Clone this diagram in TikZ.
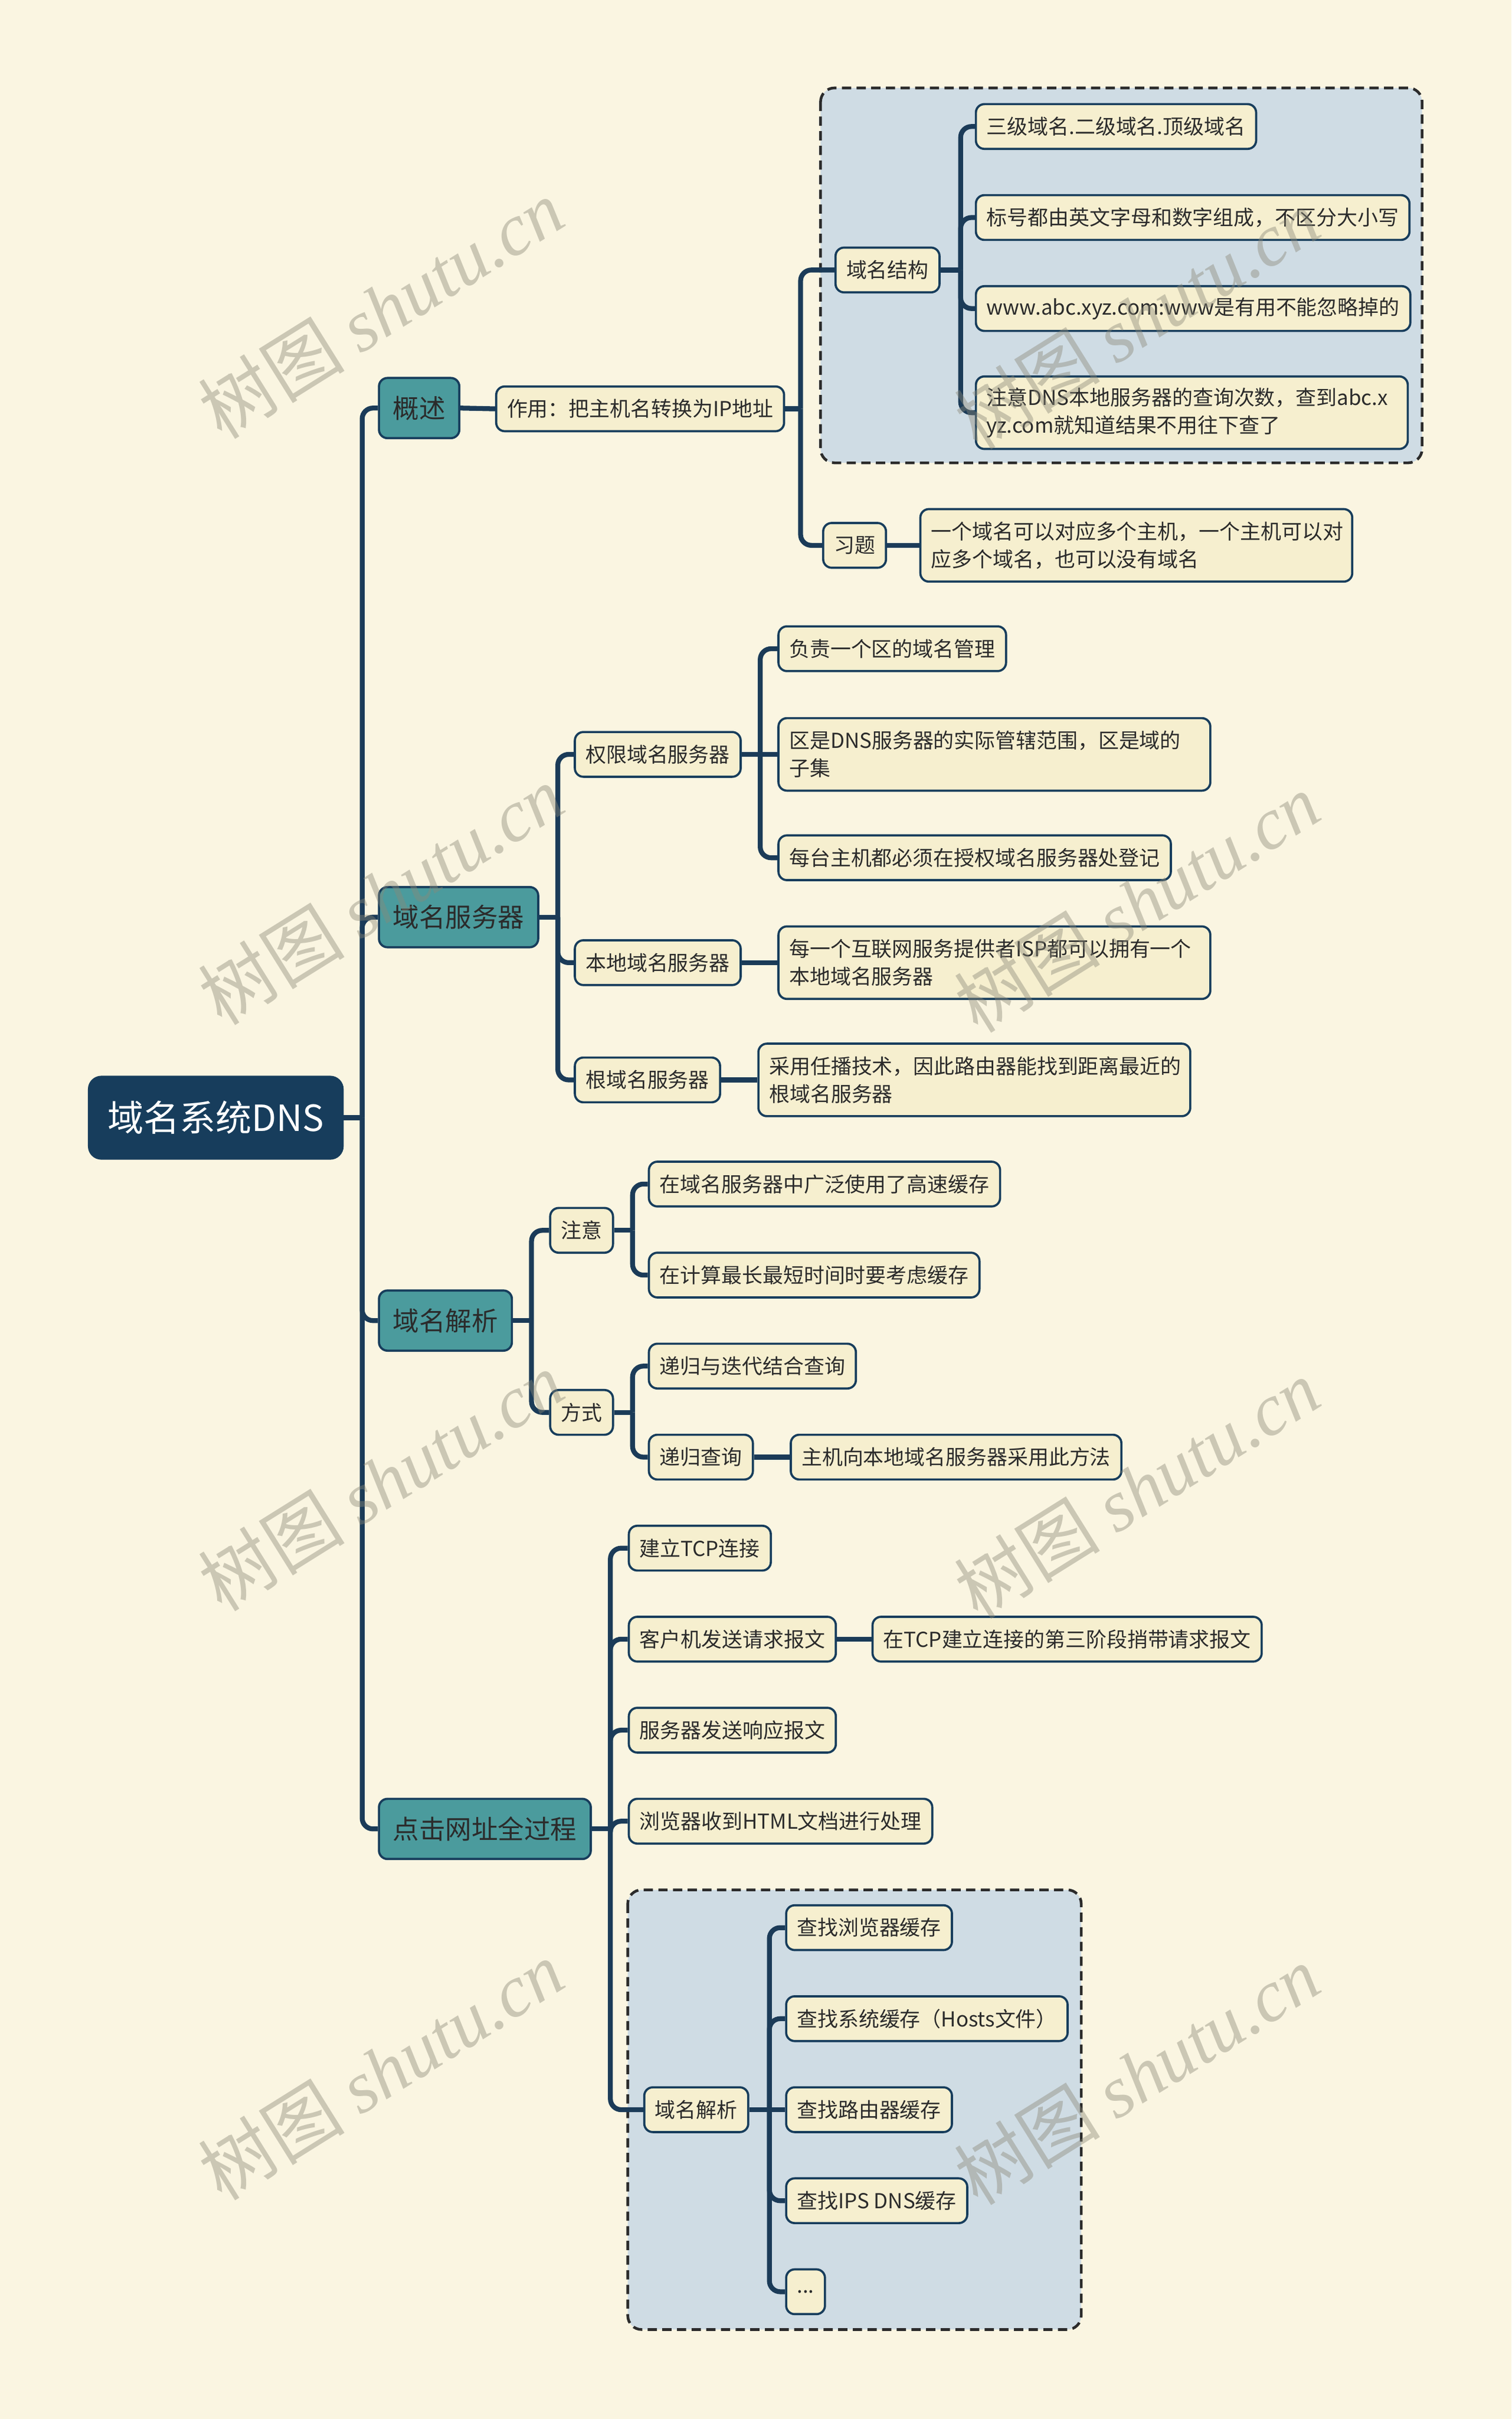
\documentclass[tikz,border=0pt]{standalone}
\usepackage{fontspec}
\setmainfont{Noto Sans CJK SC}
\newfontfamily\wmserif{Liberation Serif}
\usepackage{tikz}
\usetikzlibrary{positioning,calc,backgrounds}

\definecolor{bgcream}{HTML}{FAF5E1}
\definecolor{navy}{HTML}{173D5C}
\definecolor{linkblue}{HTML}{1B3B58}
\definecolor{teal1}{HTML}{4B9B9D}
\definecolor{leafy}{HTML}{F6EFCF}
\definecolor{groupblue}{HTML}{CFDCE4}
\definecolor{inkgray}{HTML}{2B2B2B}
\definecolor{wmgray}{HTML}{8A8878}

\begin{document}
\begin{tikzpicture}[x=0.2mm, y=-0.2mm,
    box/.style={draw=navy, line width=0.8pt, anchor=west, inner xsep=1.4mm, inner ysep=0mm,
      minimum height=5.8mm, rounded corners=1.1mm},
    root/.style={box, fill=navy, text=white, font=\fontsize{13.3}{16}\selectfont,
      minimum height=10.6mm, inner xsep=2.4mm, rounded corners=1.6mm},
    topic/.style={box, fill=teal1, text=inkgray, font=\fontsize{9.7}{12}\selectfont,
      minimum height=7.8mm, inner xsep=1.8mm},
    leaf/.style={box, fill=leafy, text=inkgray, font=\fontsize{7.6}{10.2}\selectfont},
    wrap/.style={leaf, align=left, text width=53.2mm, minimum height=9.4mm},
    link/.style={draw=linkblue, line width=1.8pt, rounded corners=1.4mm},
    group/.style={draw=inkgray, fill=groupblue, line width=1pt,
      dash pattern=on 1.2mm off 0.7mm, rounded corners=1.8mm},
    wmark/.style={text=wmgray, text opacity=0.42, rotate=32, anchor=center,
      font=\fontsize{27}{27}\selectfont}]
  \useasboundingbox (0,0) rectangle (980,1568);

  %root and main topics
  \node[root] (r) at (57,724.5) {域名系统DNS};
  \node[topic] (a) at (245,264.5) {概述};
  \node[topic] (b) at (245,594.5) {域名服务器};
  \node[topic] (c) at (245,856) {域名解析};
  \node[topic] (d) at (245,1185.5) {点击网址全过程};

  %overview
  \node[leaf] (a1) at (321,265) {作用：把主机名转换为IP地址};
  \node[leaf] (a11) at (541,175) {域名结构};
  \node[leaf] (a12) at (533,353.5) {习题};
  \node[leaf] (a111) at (632,82) {三级域名.二级域名.顶级域名};
  \node[leaf] (a112) at (632,141) {标号都由英文字母和数字组成，不区分大小写};
  \node[leaf] (a113) at (632,200) {www.abc.xyz.com:www是有用不能忽略掉的};
  \node[wrap] (a114) at (632,267.5) {注意DNS本地服务器的查询次数，查到abc.x\\yz.com就知道结果不用往下查了};
  \node[wrap] (a121) at (596,353.5) {一个域名可以对应多个主机，一个主机可以对\\应多个域名，也可以没有域名};

  %servers
  \node[leaf] (b1) at (372,489) {权限域名服务器};
  \node[leaf] (b2) at (372,624) {本地域名服务器};
  \node[leaf] (b3) at (372,700) {根域名服务器};
  \node[leaf] (b11) at (504,420.5) {负责一个区的域名管理};
  \node[wrap] (b12) at (504,489) {区是DNS服务器的实际管辖范围，区是域的\\子集};
  \node[leaf] (b13) at (504,556) {每台主机都必须在授权域名服务器处登记};
  \node[wrap] (b21) at (504,624) {每一个互联网服务提供者ISP都可以拥有一个\\本地域名服务器};
  \node[wrap] (b31) at (491,700) {采用任播技术，因此路由器能找到距离最近的\\根域名服务器};

  %resolution
  \node[leaf] (c1) at (356,797.5) {注意};
  \node[leaf] (c2) at (356,915.5) {方式};
  \node[leaf] (c11) at (420,767.5) {在域名服务器中广泛使用了高速缓存};
  \node[leaf] (c12) at (420,826.5) {在计算最长最短时间时要考虑缓存};
  \node[leaf] (c21) at (420,885.5) {递归与迭代结合查询};
  \node[leaf] (c22) at (420,944.5) {递归查询};
  \node[leaf] (c221) at (512,944.5) {主机向本地域名服务器采用此方法};

  %whole process
  \node[leaf] (d1) at (407,1003.5) {建立TCP连接};
  \node[leaf] (d2) at (407,1062.5) {客户机发送请求报文};
  \node[leaf] (d21) at (565,1062.5) {在TCP建立连接的第三阶段捎带请求报文};
  \node[leaf] (d3) at (407,1121.5) {服务器发送响应报文};
  \node[leaf] (d4) at (407,1180.5) {浏览器收到HTML文档进行处理};
  \node[leaf] (d5) at (417,1367.5) {域名解析};
  \node[leaf] (d51) at (509,1249.5) {查找浏览器缓存};
  \node[leaf] (d52) at (509,1308.5) {查找系统缓存（Hosts文件）};
  \node[leaf] (d53) at (509,1367.5) {查找路由器缓存};
  \node[leaf] (d54) at (509,1426.5) {查找IPS DNS缓存};
  \node[leaf] (d55) at (509,1485.5) {...};

  \begin{scope}[on background layer]
    \fill[bgcream] (0,0) rectangle (980,1568);
    \draw[group] (532,57) rectangle (922,300);
    \draw[group] (407,1225) rectangle (701,1510);

    \coordinate (rj) at ($(r.east)+(12,0)$);
    \draw[link] (r.east) -- (rj);
    \foreach \n in {a,b,c,d} \draw[link] (rj) |- (\n.west);

    \draw[link] (a.east) -- (a1.west);
    \coordinate (a1j) at ($(a1.east)+(10,0)$);
    \draw[link] (a1.east) -- (a1j);
    \foreach \n in {a11,a12} \draw[link] (a1j) |- (\n.west);
    \coordinate (a11j) at ($(a11.east)+(13,0)$);
    \draw[link] (a11.east) -- (a11j);
    \foreach \n in {a111,a112,a113,a114} \draw[link] (a11j) |- (\n.west);
    \draw[link] (a12.east) -- (a121.west);

    \coordinate (bj) at ($(b.east)+(12,0)$);
    \draw[link] (b.east) -- (bj);
    \foreach \n in {b1,b2,b3} \draw[link] (bj) |- (\n.west);
    \coordinate (b1j) at ($(b1.east)+(12,0)$);
    \draw[link] (b1.east) -- (b12.west);
    \foreach \n in {b11,b13} \draw[link] (b1j) |- (\n.west);
    \draw[link] (b2.east) -- (b21.west);
    \draw[link] (b3.east) -- (b31.west);

    \coordinate (cj) at ($(c.east)+(12,0)$);
    \draw[link] (c.east) -- (cj);
    \foreach \n in {c1,c2} \draw[link] (cj) |- (\n.west);
    \coordinate (c1j) at ($(c1.east)+(12,0)$);
    \draw[link] (c1.east) -- (c1j);
    \foreach \n in {c11,c12} \draw[link] (c1j) |- (\n.west);
    \coordinate (c2j) at ($(c2.east)+(12,0)$);
    \draw[link] (c2.east) -- (c2j);
    \foreach \n in {c21,c22} \draw[link] (c2j) |- (\n.west);
    \draw[link] (c22.east) -- (c221.west);

    \coordinate (dj) at ($(d.east)+(12,0)$);
    \draw[link] (d.east) -- (dj);
    \foreach \n in {d1,d2,d3,d4,d5} \draw[link] (dj) |- (\n.west);
    \draw[link] (d2.east) -- (d21.west);
    \coordinate (d5j) at ($(d5.east)+(13,0)$);
    \draw[link] (d5.east) -- (d53.west);
    \foreach \n in {d51,d52,d54,d55} \draw[link] (d5j) |- (\n.west);
  \end{scope}

  %watermarks
  \foreach \wx/\wy [count=\i] in {247/200,737/207,247/580,737/585,247/960,737/965,247/1342,737/1345}
    \node[wmark] (w\i) at (\wx,\wy) {树图 {\wmserif\itshape shutu.cn}};
\end{tikzpicture}
\end{document}
